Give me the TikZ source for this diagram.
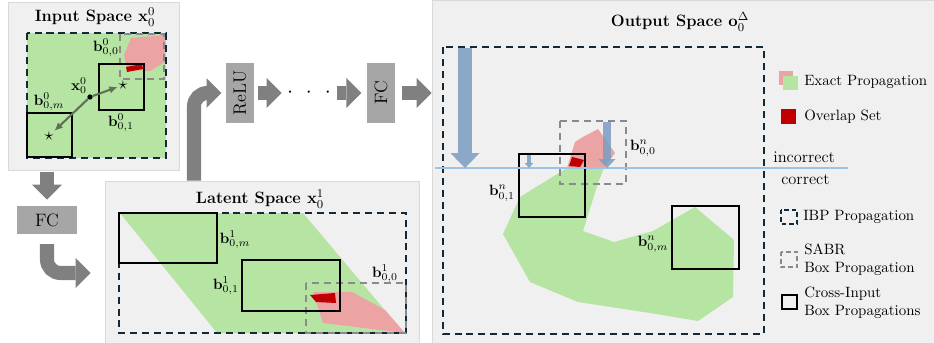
\documentclass[tikz,border=0pt]{standalone}
\usepackage{amsmath}
\usetikzlibrary{arrows.meta,fit,positioning}

\definecolor{panelgray}{HTML}{F0F0F0}
\definecolor{flowgray}{HTML}{808080}
\definecolor{layergray}{HTML}{A6A6A6}
\definecolor{exactgreen}{HTML}{B5E4A3}
\definecolor{exactred}{HTML}{EBA3A3}
\definecolor{overlapred}{HTML}{C00000}
\definecolor{ibpnavy}{HTML}{12293A}
\definecolor{sabrgray}{HTML}{8A8A8A}
\definecolor{marginblue}{HTML}{9DC3E6}
\definecolor{shiftblue}{HTML}{7A9DC0}
\definecolor{dirgray}{HTML}{5E7157}

\tikzset{
  panel/.style={fill=panelgray, draw=black!15, line width=0.6pt, inner sep=0pt},
  layer/.style={fill=layergray, font=\large, inner sep=0pt, minimum width=40pt, minimum height=19pt},
  flow/.style={draw=flowgray, line width=9.4pt, -{Triangle[length=10pt,width=20pt,line width=0pt]}},
  ibpbox/.style={draw=ibpnavy, line width=1.9pt, dash pattern=on 4.7pt off 3.3pt},
  sabrbox/.style={draw=sabrgray, line width=1.5pt, dash pattern=on 4.7pt off 3.3pt},
  crossbox/.style={draw=black, line width=1.6pt},
  dirarrow/.style={draw=dirgray, line width=1.4pt, -{Latex[length=5.5pt,width=5pt]}},
  shiftarrow/.style={draw=shiftblue, opacity=0.85},
  title/.style={font=\fontsize{11}{13}\selectfont\bfseries},
  blabel/.style={inner sep=1pt},
  legtext/.style={anchor=west, inner sep=0pt, align=left},
}

\begin{document}
\begin{tikzpicture}[x=0.67pt, y=-0.67pt]
  \useasboundingbox (0,0) rectangle (934,343);

  \node[panel, fit={(8,2) (179,170)}] (inpanel) {};
  \node[panel, fit={(105,181) (419,343)}] (latpanel) {};
  \node[panel, fit={(432,0) (934,343)}] (outpanel) {};

  % input space
  \node[title] (intitle) at (95,17) {Input Space $\mathbf{x}_0^0$};
  \fill[exactgreen] (27,33) rectangle (166,158);
  \fill[exactred] (124,55) -- (131,38) -- (165,35) -- (165,62) -- (150,71) -- (127,70) -- cycle;
  \fill[overlapred] (126,67) -- (142,64) -- (143,69) -- (127,72) -- cycle;
  \draw[ibpbox] (27,33) rectangle (166,158);
  \draw[sabrbox] (120,34) rectangle (164,79);
  \draw[crossbox] (99,64) rectangle (144,110);
  \draw[crossbox] (27,113) rectangle (72,157);
  \node[inner sep=0.5pt, font=\large] (star1) at (123,85) {$\star$};
  \node[inner sep=0.5pt, font=\large] (starm) at (49,136) {$\star$};
  \node[circle, fill=black, inner sep=0pt, minimum size=3.5pt] (x0) at (90,97) {};
  \draw[dirarrow] (x0) -- (star1);
  \draw[dirarrow] (x0) -- (starm);
  \node[blabel] (b00in) at (106,48) {$\mathbf{b}_{0,0}^0$};
  \node[blabel] (b01in) at (121,123) {$\mathbf{b}_{0,1}^0$};
  \node[blabel] (b0min) at (49,102) {$\mathbf{b}_{0,m}^0$};
  \node[blabel] (x0lbl) at (79,86) {$\mathbf{x}_0^0$};

  % latent space
  \node[title] (lattitle) at (260,199) {Latent Space $\mathbf{x}_0^1$};
  \fill[exactgreen] (120,213) -- (303,213) -- (404,333) -- (217,333) -- cycle;
  \fill[exactred] (313,292) -- (352,292) -- (385,310) -- (405,333) -- (323,323) -- cycle;
  \fill[overlapred] (310,295) -- (335,293) -- (336,303) -- (316,302) -- cycle;
  \draw[ibpbox] (119,213) rectangle (406,333);
  \draw[sabrbox] (306,283) rectangle (406,333);
  \draw[crossbox] (119,213) rectangle (217,263);
  \draw[crossbox] (242,260) rectangle (340,311);
  \node[blabel] (b0mlat) at (235,240) {$\mathbf{b}_{0,m}^1$};
  \node[blabel] (b01lat) at (226,286) {$\mathbf{b}_{0,1}^1$};
  \node[blabel] (b00lat) at (385,274) {$\mathbf{b}_{0,0}^1$};

  % network
  \node[layer] (fc1) at (47,220) {FC};
  \node[layer, minimum width=19.4pt, minimum height=40pt] (relu) at (240,93) {\rotatebox{90}{ReLU}};
  \node[inner sep=0pt, font=\Large] (dots) at (309,93) {$\cdot\hspace{5.5pt}\cdot\hspace{5.5pt}\cdot$};
  \node[layer, minimum width=19pt, minimum height=40pt] (fc2) at (381,93) {\rotatebox{90}{FC}};
  \draw[flow, shorten <=1pt, shorten >=4pt] (inpanel.south -| fc1) -- (fc1.north);
  \draw[flow, rounded corners=9pt, shorten <=6.5pt, shorten >=9.4pt] (fc1.south) |- (latpanel.west |- 0,273);
  \draw[flow, rounded corners=9pt, shorten >=2.5pt] (latpanel.north -| 194,0) |- (relu.west);
  \draw[flow, shorten <=2pt, shorten >=3.5pt] (relu.east) -- (dots.west);
  \draw[flow, shorten <=4pt, shorten >=3.5pt] (dots.east) -- (fc2.west);
  \draw[flow, shorten <=4.7pt] (fc2.east) -- (outpanel.west |- fc2);

  % output space
  \node[title] (outtitle) at (680,22) {Output Space $\mathbf{o}_0^{\Delta}$};
  \def\exactout{(503,234) -- (520,197) -- (567,168) -- (575,142) -- (583,137) -- (598,129) -- (615,153) -- (604,168) -- (598,183) -- (583,231) -- (614,242) -- (653,231) -- (695,207) -- (734,240) -- (733,297) -- (698,321) -- (650,313) -- (578,302) -- (530,282) -- cycle}
  \begin{scope}
    \clip (432,0) rectangle (934,168);
    \fill[exactred] \exactout;
  \end{scope}
  \begin{scope}
    \clip (432,168) rectangle (934,343);
    \fill[exactgreen] \exactout;
  \end{scope}
  \fill[overlapred] (569,166) -- (572,157) -- (584,160) -- (580,167) -- cycle;
  \draw[ibpbox] (443,47) rectangle (764,334);
  \draw[sabrbox] (560,121) rectangle (626,184);
  \draw[crossbox] (519,154) rectangle (585,217);
  \draw[crossbox] (672,206) rectangle (739,269);
  \coordinate (mleft) at (435,168);
  \coordinate (mright) at (848,168);
  \draw[marginblue, line width=1.4pt] (mleft) -- (mright);
  \coordinate (bigtop) at (465,48);
  \coordinate (midtop) at (607,122);
  \coordinate (smalltop) at (529,155);
  \draw[shiftarrow, line width=10pt, -{Triangle[length=10pt,width=19.5pt,line width=0pt]}] (bigtop) -- (bigtop |- mleft);
  \draw[shiftarrow, line width=6pt, -{Triangle[length=6pt,width=11.5pt,line width=0pt]}] (midtop) -- (midtop |- mleft);
  \draw[shiftarrow, line width=2.7pt, -{Triangle[length=3.5pt,width=6pt,line width=0pt]}] (smalltop) -- (smalltop |- mleft);
  \node[blabel] (b00out) at (643,148) {$\mathbf{b}_{0,0}^n$};
  \node[blabel] (b01out) at (502,193) {$\mathbf{b}_{0,1}^n$};
  \node[blabel] (b0mout) at (653,244) {$\mathbf{b}_{0,m}^n$};

  % legend
  \fill[exactred] (779,71) rectangle (793,85);
  \fill[exactgreen] (783,76) rectangle (798,90);
  \node[legtext] (legexact) at (804,82) {Exact Propagation};
  \fill[overlapred] (781,109) rectangle (796,124);
  \node[legtext] (legoverlap) at (804,117) {Overlap Set};
  \node[legtext, font=\fontsize{11}{13}\selectfont] (legincorrect) at (773,157) {incorrect};
  \node[legtext, font=\fontsize{11}{13}\selectfont] (legcorrect) at (781,180) {correct};
  \draw[ibpbox, line width=0.9pt, dash pattern=on 3pt off 2pt] (781,210) rectangle (797,224);
  \node[legtext] (legibp) at (803,217) {IBP Propagation};
  \draw[sabrbox, line width=0.9pt, dash pattern=on 3pt off 2pt] (781,252) rectangle (797,267);
  \node[legtext] (legsabr) at (804,260) {SABR\\Box Propagation};
  \draw[crossbox, line width=1pt] (782,295) rectangle (797,309);
  \node[legtext] (legcross) at (804,303) {Cross-Input\\Box Propagations};
\end{tikzpicture}
\end{document}
